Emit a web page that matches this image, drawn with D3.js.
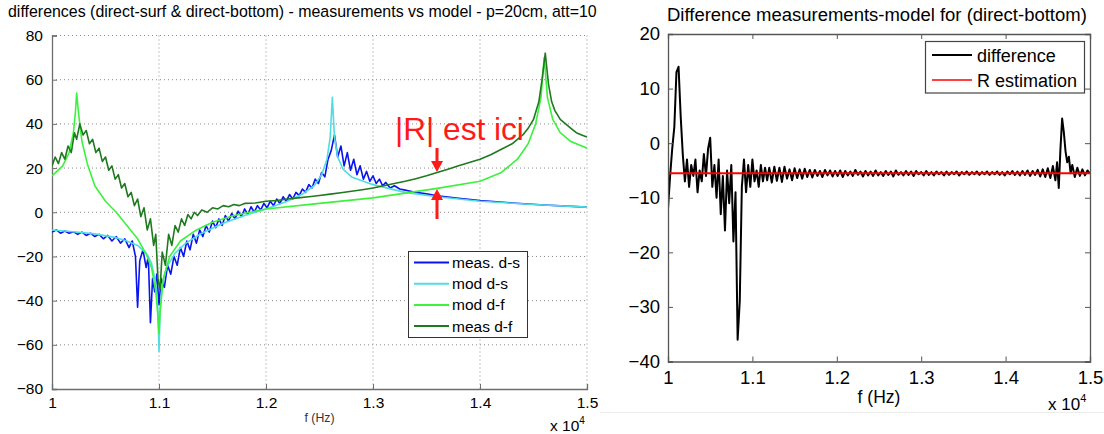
<!DOCTYPE html>
<html><head><meta charset="utf-8">
<script src="https://cdn.jsdelivr.net/npm/d3@7"></script>
<style>body{margin:0;background:#fff;} svg{display:block;font-family:Arial,"Liberation Sans",sans-serif;}</style>
</head><body><svg id="c" width="1104" height="434"></svg>
<script>
// ---------------- data ----------------
const xTicks = [1, 1.1, 1.2, 1.3, 1.4, 1.5];
const leftYTicks = [-80, -60, -40, -20, 0, 20, 40, 60, 80];
const rightYTicks = [-40, -30, -20, -10, 0, 10, 20];
const leftTitle = "differences (direct-surf & direct-bottom) - measurements vs model - p=20cm, att=10";
const rightTitle = "Difference measurements-model for (direct-bottom)";
const leftLegend = ["meas. d-s", "mod d-s", "mod d-f", "meas d-f"];
const rightLegend = ["difference", "R estimation"];

// [f (x10^4 Hz), dB]
const measDS = [[1.000,-9],[1.004,-8],[1.008,-9.5],[1.012,-8.5],[1.016,-9.5],[1.020,-8.8],[1.024,-10],[1.028,-9],[1.032,-10.5],[1.036,-9.5],[1.040,-11],[1.044,-10],[1.048,-12],[1.052,-10.5],[1.056,-13],[1.060,-11],[1.064,-14],[1.068,-12],[1.072,-16],[1.075,-13],[1.078,-20],[1.080,-43],[1.082,-22],[1.085,-17],[1.088,-25],[1.090,-20],[1.092,-50],[1.094,-30],[1.096,-36],[1.098,-28],[1.100,-42],[1.102,-30],[1.105,-34],[1.108,-24],[1.111,-28],[1.114,-20],[1.117,-24],[1.120,-16],[1.123,-20],[1.126,-13],[1.129,-17],[1.132,-10],[1.135,-14],[1.138,-8],[1.141,-11],[1.144,-6],[1.147,-9],[1.150,-4],[1.153,-7],[1.156,-3],[1.159,-6],[1.162,-1.5],[1.165,-4],[1.168,-0.5],[1.171,-3],[1.174,0.5],[1.177,-2],[1.180,1.5],[1.183,-1],[1.186,2.5],[1.189,0],[1.192,3],[1.195,1],[1.198,4],[1.201,2],[1.204,5],[1.207,3],[1.210,6],[1.213,4],[1.216,7],[1.219,5],[1.222,8],[1.225,6],[1.228,9],[1.231,7.5],[1.234,10.5],[1.237,9],[1.240,12.5],[1.243,11],[1.246,15],[1.249,13],[1.252,18],[1.255,16],[1.258,24],[1.261,28],[1.264,35],[1.267,25],[1.270,30],[1.273,21],[1.276,27],[1.279,19],[1.282,24],[1.285,17],[1.288,21],[1.291,15],[1.294,18.5],[1.297,14],[1.300,16.5],[1.303,13],[1.306,15],[1.309,12],[1.312,13.5],[1.316,11],[1.320,12],[1.325,10.5],[1.33,10],[1.335,9.5],[1.34,9],[1.35,8.3],[1.36,7.5],[1.38,6.3],[1.40,5.3],[1.43,4.2],[1.46,3.3],[1.50,2.3]];

const modDS = [[1.000,-8],[1.02,-8.8],[1.04,-9.8],[1.06,-11.5],[1.07,-13],[1.08,-15],[1.088,-18.5],[1.093,-23],[1.097,-32],[1.099,-45],[1.1,-63],[1.101,-45],[1.103,-33],[1.107,-25],[1.115,-18.5],[1.125,-14],[1.14,-9.5],[1.16,-5],[1.18,-1.5],[1.2,1.5],[1.22,5],[1.235,8.5],[1.245,12],[1.252,17],[1.257,24],[1.26,34],[1.262,52],[1.264,34],[1.267,25],[1.272,19.5],[1.28,16],[1.3,12.5],[1.33,9],[1.36,7],[1.4,5],[1.45,3.5],[1.5,2.3]];

const modDF = [[1.000,16.5],[1.01,21],[1.016,27],[1.02,36],[1.022,46],[1.023,54],[1.025,44],[1.028,32],[1.033,22],[1.04,12],[1.05,5],[1.06,0],[1.07,-6],[1.08,-12],[1.088,-19],[1.093,-25],[1.097,-36],[1.099,-47],[1.1,-55],[1.101,-45],[1.104,-30],[1.11,-20],[1.12,-13],[1.135,-8],[1.15,-4.5],[1.17,-1.5],[1.2,1.5],[1.25,4],[1.3,6.5],[1.36,10.8],[1.4,14],[1.42,18],[1.435,24],[1.445,31],[1.452,40],[1.457,52],[1.46,70],[1.463,52],[1.468,42],[1.475,36],[1.485,32],[1.5,29]];

const measDF = [[1.000,21],[1.003,25],[1.006,22],[1.009,27],[1.012,24],[1.015,30],[1.018,27],[1.021,36],[1.023,33],[1.026,40],[1.029,35],[1.032,37],[1.035,31],[1.038,33],[1.041,27],[1.044,29],[1.047,23],[1.050,25],[1.053,19],[1.056,21],[1.059,15],[1.062,17],[1.065,11],[1.068,13],[1.071,7],[1.074,9],[1.077,3],[1.080,6],[1.083,-2],[1.086,2],[1.089,-8],[1.092,-3],[1.095,-15],[1.097,-10],[1.099,-30],[1.101,-35],[1.103,-18],[1.106,-24],[1.109,-10],[1.112,-15],[1.115,-6],[1.118,-9],[1.121,-3],[1.124,-6],[1.127,-1],[1.130,-3],[1.133,0],[1.136,-1.5],[1.140,1],[1.145,0],[1.150,2],[1.155,1.5],[1.160,3],[1.165,2.5],[1.170,3.5],[1.175,3],[1.180,4],[1.19,4.2],[1.20,5],[1.21,5.3],[1.22,6],[1.23,6.5],[1.24,7],[1.25,7.6],[1.26,8.2],[1.27,8.8],[1.28,9.5],[1.29,10.2],[1.30,11],[1.31,12],[1.32,13],[1.33,14],[1.34,15.2],[1.35,16.5],[1.36,18],[1.37,19.5],[1.38,21],[1.39,22.5],[1.40,24],[1.41,26],[1.42,28.5],[1.43,31],[1.44,35],[1.445,38],[1.45,42],[1.455,50],[1.458,60],[1.461,72],[1.464,58],[1.467,50],[1.47,46],[1.475,42],[1.48,40],[1.485,38],[1.49,36],[1.495,35],[1.5,34]];

const diffDB = [[1.0000,-12],[1.0025,-6],[1.0050,-1],[1.0075,3],[1.0100,13],[1.0125,14],[1.0150,5],[1.0175,-2],[1.0200,-7],[1.0225,-3],[1.0250,-8],[1.0275,-4],[1.0300,-6],[1.0325,-3],[1.0350,-9],[1.0375,-5],[1.0400,-7],[1.0425,-2],[1.0450,-6],[1.0475,-1],[1.0500,1],[1.0525,-8],[1.0550,-4],[1.0575,-10],[1.0600,-3],[1.0625,-13],[1.0650,-6],[1.0675,-16],[1.0700,-5],[1.0725,-11],[1.0750,-4],[1.0775,-18],[1.0800,-9],[1.0825,-36],[1.0850,-29],[1.0875,-8],[1.0900,-3],[1.0925,-9],[1.0950,-4],[1.0975,-8],[1.1000,-3],[1.1025,-7],[1.1050,-5],[1.1075,-8],[1.1100,-4],[1.1125,-7],[1.1150,-4.5],[1.1175,-6.8],[1.1200,-4.5],[1.123,-7.2],[1.126,-4.3],[1.129,-6.9],[1.132,-4.5],[1.135,-7.1],[1.138,-4.3],[1.141,-6.5],[1.144,-4.8],[1.147,-6.8],[1.150,-4.6],[1.153,-6.4],[1.156,-4.8],[1.159,-6.5],[1.162,-4.7],[1.165,-6.2],[1.168,-4.9],[1.171,-6.3],[1.174,-4.9],[1.177,-6.0],[1.180,-5.1],[1.183,-6.2],[1.186,-4.9],[1.189,-5.9],[1.192,-5.0],[1.195,-6.1],[1.198,-5.1],[1.201,-6.0],[1.204,-5.0],[1.207,-6.2],[1.210,-5.1],[1.213,-5.9],[1.216,-5.2],[1.219,-6.0],[1.222,-4.9],[1.225,-5.8],[1.228,-5.2],[1.231,-6.1],[1.234,-5.1],[1.237,-5.9],[1.240,-5.2],[1.243,-6.0],[1.246,-5.0],[1.249,-5.9],[1.252,-5.3],[1.255,-6.0],[1.258,-5.1],[1.261,-5.8],[1.264,-5.2],[1.267,-6.1],[1.270,-5.0],[1.273,-5.8],[1.276,-5.3],[1.279,-5.9],[1.282,-5.1],[1.285,-5.8],[1.288,-5.2],[1.291,-6.0],[1.294,-5.1],[1.297,-5.7],[1.300,-5.3],[1.303,-5.9],[1.306,-5.1],[1.309,-5.8],[1.312,-5.3],[1.315,-5.9],[1.318,-5.2],[1.321,-5.7],[1.324,-5.3],[1.327,-5.9],[1.330,-5.2],[1.333,-5.8],[1.336,-5.3],[1.339,-5.7],[1.342,-5.2],[1.345,-5.9],[1.348,-5.3],[1.351,-5.7],[1.354,-5.2],[1.357,-5.8],[1.360,-5.3],[1.363,-5.7],[1.366,-5.2],[1.369,-5.8],[1.372,-5.3],[1.375,-5.7],[1.378,-5.2],[1.381,-5.8],[1.384,-5.3],[1.387,-5.7],[1.390,-5.2],[1.393,-5.8],[1.396,-5.3],[1.399,-5.9],[1.402,-5.2],[1.405,-5.7],[1.408,-5.1],[1.411,-5.8],[1.414,-5.2],[1.417,-5.9],[1.420,-5.1],[1.423,-5.8],[1.426,-5.0],[1.429,-6.0],[1.432,-5.1],[1.435,-5.8],[1.438,-4.9],[1.441,-6.1],[1.444,-4.8],[1.447,-6.2],[1.450,-4.6],[1.453,-6.4],[1.456,-4.2],[1.459,-6.8],[1.461,-3.5],[1.463,-8.2],[1.465,-1.0],[1.467,4.5],[1.469,2.0],[1.471,-1.5],[1.473,-3.5],[1.475,-2.5],[1.477,-5.5],[1.479,-4.0],[1.482,-6.2],[1.485,-4.5],[1.488,-6.0],[1.491,-4.8],[1.494,-5.9],[1.497,-5.0],[1.500,-5.6]];

const rEstimate = [[1.0,-5.5],[1.5,-5.5]];

const leftColors = ["#0a14f0", "#4fdde3", "#3cf23c", "#1e7a1e"];
const rightColors = ["#000000", "#ff0000"];

// ---------------- drawing ----------------
const svg = d3.select("#c");
const defs = svg.append("defs");

function fitText(sel, width, base) {
  const w = sel.node().getComputedTextLength();
  sel.attr("font-size", base * width / w);
}

// ===== Left panel =====
const L = {x0: 52, x1: 587, y0: 35.5, y1: 389};
const xL = d3.scaleLinear().domain([1, 1.5]).range([L.x0, L.x1]);
const yL = d3.scaleLinear().domain([-80, 80]).range([L.y1, L.y0]);

defs.append("clipPath").attr("id", "clipL").append("rect")
  .attr("x", L.x0).attr("y", L.y0).attr("width", L.x1 - L.x0).attr("height", L.y1 - L.y0);
defs.append("clipPath").attr("id", "clipTitle").append("rect")
  .attr("x", 0).attr("y", 0).attr("width", 598).attr("height", 30);

const gL = svg.append("g");
// grid
gL.append("g").selectAll("line").data(xTicks.slice(1)).join("line")
  .attr("x1", d => xL(d)).attr("x2", d => xL(d)).attr("y1", L.y0).attr("y2", L.y1)
  .attr("stroke", "#8a8a8a").attr("stroke-width", 1).attr("stroke-dasharray", "1,3");
gL.append("g").selectAll("line").data(leftYTicks.slice(1)).join("line")
  .attr("x1", L.x0).attr("x2", L.x1).attr("y1", d => yL(d)).attr("y2", d => yL(d))
  .attr("stroke", "#8a8a8a").attr("stroke-width", 1).attr("stroke-dasharray", "1,3");

// axes
const axB = d3.axisBottom(xL).tickValues(xTicks).tickSize(-5).tickPadding(8).tickFormat(d3.format("~g"));
const axLft = d3.axisLeft(yL).tickValues(leftYTicks).tickSize(-5).tickPadding(9).tickFormat(d3.format("d"));
const gxL = gL.append("g").attr("transform", `translate(0,${L.y1})`).call(axB);
const gyL = gL.append("g").attr("transform", `translate(${L.x0},0)`).call(axLft);
[gxL, gyL].forEach(g => {
  g.select(".domain").attr("stroke", "#6e6e6e").attr("stroke-width", 1.3);
  g.selectAll(".tick line").attr("stroke", "#6e6e6e");
  g.selectAll("text").attr("font-size", 15.5).attr("fill", "#000").attr("font-family", "Arial, Liberation Sans, sans-serif");
});

// lines
const lineL = d3.line().x(d => xL(d[0])).y(d => yL(d[1]));
const seriesL = [measDS, modDS, modDF, measDF];
const gLines = gL.append("g").attr("clip-path", "url(#clipL)");
seriesL.forEach((s, i) => {
  gLines.append("path").datum(s).attr("d", lineL).attr("fill", "none")
    .attr("stroke", leftColors[i]).attr("stroke-width", 1.6).attr("stroke-linejoin", "round");
});

// annotation
const ann = gL.append("text").attr("x", 395).attr("y", 140).attr("fill", "#ff1a1a")
  .attr("font-size", 30).text("|R| est ici");
fitText(ann, 129, 30);
function arrow(x, yFrom, yTo) {
  const dir = yTo > yFrom ? 1 : -1;
  gL.append("line").attr("x1", x).attr("x2", x).attr("y1", yFrom).attr("y2", yTo - dir * 9)
    .attr("stroke", "#ff1a1a").attr("stroke-width", 3);
  gL.append("path").attr("d", `M${x - 6},${yTo - dir * 11} L${x + 6},${yTo - dir * 11} L${x},${yTo} Z`)
    .attr("fill", "#ff1a1a");
}
arrow(437, 148, 172);
arrow(437, 219, 189);

// legend
const lgL = gL.append("g");
lgL.append("rect").attr("x", 408.5).attr("y", 251.5).attr("width", 119).attr("height", 86)
  .attr("fill", "#fff").attr("stroke", "#333").attr("stroke-width", 1);
leftLegend.forEach((t, i) => {
  const y = 262.5 + i * 21.2;
  lgL.append("line").attr("x1", 414).attr("x2", 449).attr("y1", y).attr("y2", y)
    .attr("stroke", leftColors[i]).attr("stroke-width", 2);
  lgL.append("text").attr("x", 452).attr("y", y + 5.5).attr("font-size", 15.5).text(t);
});

// titles & labels
const tL = svg.append("text").attr("x", 8).attr("y", 17).attr("font-size", 14).attr("clip-path", "url(#clipTitle)").text(leftTitle);
fitText(tL, 589, 14);
svg.append("text").attr("x", (L.x0 + L.x1) / 2).attr("y", 422).attr("text-anchor", "middle")
  .attr("font-size", 12.3).attr("fill", "#333").text("f (Hz)");
const expL = svg.append("text").attr("x", 550).attr("y", 431).attr("font-size", 15.5);
expL.append("tspan").text("x 10");
expL.append("tspan").attr("dy", -7).attr("font-size", 10).text("4");

// ===== Right panel =====
const R = {x0: 668, x1: 1090, y0: 34, y1: 361.5};
const xR = d3.scaleLinear().domain([1, 1.5]).range([R.x0, R.x1]);
const yR = d3.scaleLinear().domain([-40, 20]).range([R.y1, R.y0]);
defs.append("clipPath").attr("id", "clipR").append("rect")
  .attr("x", R.x0).attr("y", R.y0).attr("width", R.x1 - R.x0).attr("height", R.y1 - R.y0);

const gR = svg.append("g");
const linesR = gR.append("g").attr("clip-path", "url(#clipR)");
const lineR = d3.line().x(d => xR(d[0])).y(d => yR(d[1]));
linesR.append("path").datum(diffDB).attr("d", lineR).attr("fill", "none")
  .attr("stroke", rightColors[0]).attr("stroke-width", 2).attr("stroke-linejoin", "round");
linesR.append("path").datum(rEstimate).attr("d", lineR).attr("fill", "none")
  .attr("stroke", rightColors[1]).attr("stroke-width", 2);

const axRB = d3.axisBottom(xR).tickValues(xTicks).tickSize(-5).tickPadding(9).tickFormat(d3.format("~g"));
const axRT = d3.axisTop(xR).tickValues(xTicks).tickSize(-5).tickFormat("");
const axRL = d3.axisLeft(yR).tickValues(rightYTicks).tickSize(-5).tickPadding(8).tickFormat(d3.format("d"));
const axRR = d3.axisRight(yR).tickValues(rightYTicks).tickSize(-5).tickFormat("");
const gRB = gR.append("g").attr("transform", `translate(0,${R.y1})`).call(axRB);
const gRT = gR.append("g").attr("transform", `translate(0,${R.y0})`).call(axRT);
const gRL = gR.append("g").attr("transform", `translate(${R.x0},0)`).call(axRL);
const gRR = gR.append("g").attr("transform", `translate(${R.x1},0)`).call(axRR);
[gRB, gRT, gRL, gRR].forEach(g => {
  g.select(".domain").attr("stroke", "#555").attr("stroke-width", 1.3);
  g.selectAll(".tick line").attr("stroke", "#555");
  g.selectAll("text").attr("font-size", 18.5).attr("fill", "#000").attr("font-family", "Arial, Liberation Sans, sans-serif");
});

// legend
const lgR = gR.append("g");
lgR.append("rect").attr("x", 925.5).attr("y", 41.5).attr("width", 159).attr("height", 51.5)
  .attr("fill", "#fff").attr("stroke", "#444").attr("stroke-width", 1.2);
rightLegend.forEach((t, i) => {
  const y = 55 + i * 25;
  lgR.append("line").attr("x1", 932).attr("x2", 972).attr("y1", y).attr("y2", y)
    .attr("stroke", rightColors[i]).attr("stroke-width", i === 0 ? 2 : 1.5);
  lgR.append("text").attr("x", 977).attr("y", y + 6.5).attr("font-size", 18).text(t);
});

const tR = svg.append("text").attr("x", 667).attr("y", 21).attr("font-size", 18).text(rightTitle);
fitText(tR, 420, 18);
svg.append("text").attr("x", (R.x0 + R.x1) / 2).attr("y", 403).attr("text-anchor", "middle")
  .attr("font-size", 17.5).text("f (Hz)");
const expR = svg.append("text").attr("x", 1048).attr("y", 410).attr("font-size", 17);
expR.append("tspan").text("x 10");
expR.append("tspan").attr("dy", -8).attr("font-size", 11).text("4");

svg.append("line").attr("x1", 600).attr("x2", 1104).attr("y1", 412.5).attr("y2", 412.5)
  .attr("stroke", "#ececec").attr("stroke-width", 1);
</script></body></html>
